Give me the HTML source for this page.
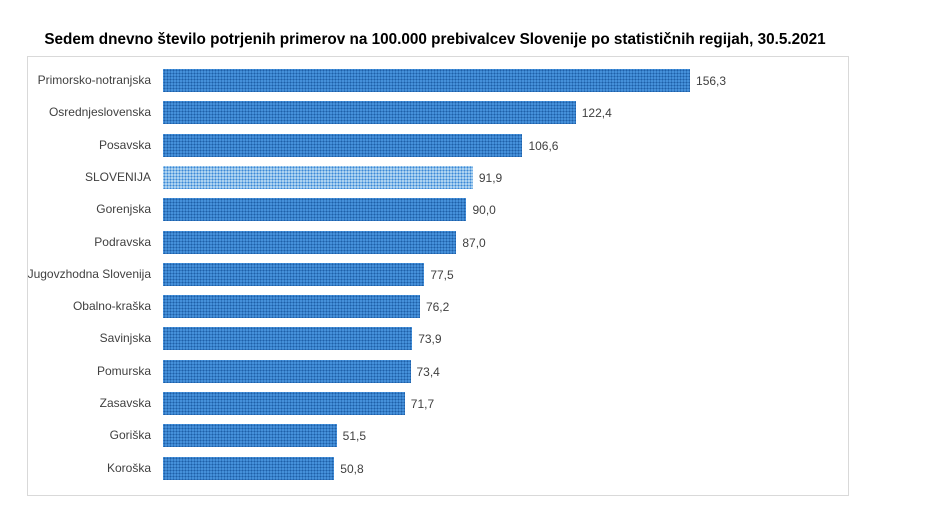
<!DOCTYPE html>
<html><head><meta charset="utf-8"><style>
body{margin:0;width:940px;height:529px;background:#fff;font-family:"Liberation Sans",sans-serif;position:relative;overflow:hidden}
.t{position:absolute;left:40px;width:790px;top:31px;text-align:center;font-weight:bold;font-size:15.3px;color:#000}
.box{position:absolute;left:27px;top:56px;width:820px;height:438px;border:1px solid #d9d9d9}
.l{position:absolute;font-size:12px;color:#404040;text-align:right;white-space:nowrap}
.b{position:absolute;left:163px;height:23px;background-color:#4590da;background-image:radial-gradient(#1e5fa8 0.8px,transparent 1px);background-size:3px 3px}
.s{background-color:#b3d7f2;background-image:radial-gradient(#3a87d6 0.9px,transparent 1.1px)}
.v{position:absolute;font-size:12px;color:#404040}
</style></head><body>
<div class="t">Sedem dnevno število potrjenih primerov na 100.000 prebivalcev Slovenije po statističnih regijah, 30.5.2021</div>
<div class="box"></div>
<div id="c"></div>
<script>
var d=[["Primorsko-notranjska",156.3],["Osrednjeslovenska",122.4],["Posavska",106.6],["SLOVENIJA",91.9],["Gorenjska",90.0],["Podravska",87.0],["Jugovzhodna Slovenija",77.5],["Obalno-kraška",76.2],["Savinjska",73.9],["Pomurska",73.4],["Zasavska",71.7],["Goriška",51.5],["Koroška",50.8]];
var h="";
d.forEach(function(e,i){var y=69+i*32.3;var w=e[1]*3.372;
h+='<div class="l" style="top:'+(y+4)+'px;left:0;width:151px">'+e[0]+'</div>';
h+='<div class="b'+(i==3?' s':'')+'" style="top:'+y+'px;width:'+w+'px"></div>';
h+='<div class="v" style="top:'+(y+5)+'px;left:'+(163+w+6)+'px">'+e[1].toFixed(1).replace(".",",")+'</div>';});
document.getElementById("c").innerHTML=h;
</script>
</body></html>
